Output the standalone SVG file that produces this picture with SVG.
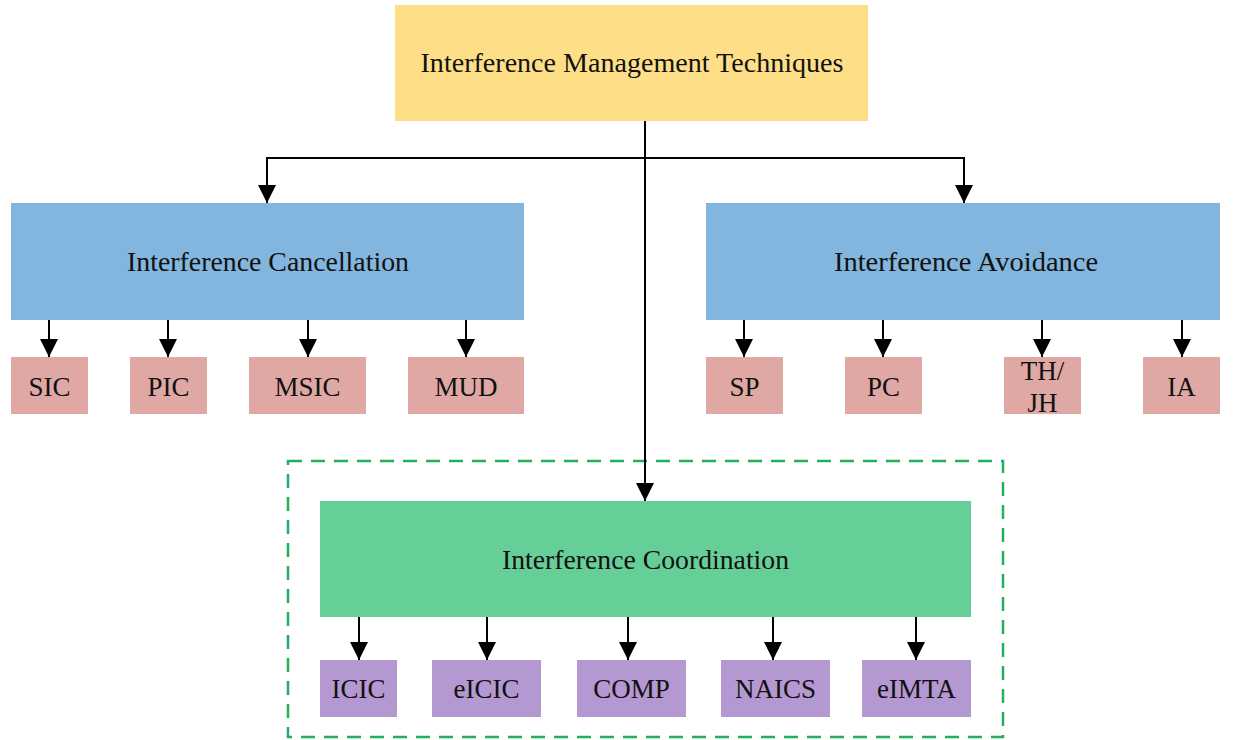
<svg xmlns="http://www.w3.org/2000/svg" width="1239" height="740" viewBox="0 0 1239 740">
<style>
text{font-family:"Liberation Serif","Times New Roman",serif;font-size:27px;fill:#111;text-anchor:middle}
.y{fill:#FEDF87}.b{fill:#82B6DE}.p{fill:#DFA8A5}.g{fill:#66CF97}.v{fill:#B498D1}
.c{fill:none;stroke:#000;stroke-width:2}
.a{marker-end:url(#ah)}
</style>
<defs>
<marker id="ah" markerUnits="userSpaceOnUse" markerWidth="20" markerHeight="20" viewBox="0 0 20 20" refX="18" refY="10" orient="auto">
<path d="M0,1 L18,10 L0,19 Z" fill="#000"/>
</marker>
</defs>
<rect x="288" y="461" width="715" height="276" fill="none" stroke="#22B05C" stroke-width="2.5" stroke-dasharray="14 9"/>
<g id="connectors">
<path class="c" d="M645,121 V158"/>
<path class="c a" d="M645,158 H267 V203"/>
<path class="c a" d="M645,158 H964 V203"/>
<path class="c a" d="M645,158 V501"/>
<path class="c a" d="M49,320 V357"/>
<path class="c a" d="M168,320 V357"/>
<path class="c a" d="M308,320 V357"/>
<path class="c a" d="M466,320 V357"/>
<path class="c a" d="M744,320 V357"/>
<path class="c a" d="M883,320 V357"/>
<path class="c a" d="M1042,320 V357"/>
<path class="c a" d="M1182,320 V357"/>
<path class="c a" d="M359,617 V660"/>
<path class="c a" d="M487,617 V660"/>
<path class="c a" d="M628,617 V660"/>
<path class="c a" d="M773,617 V660"/>
<path class="c a" d="M916,617 V660"/>
</g>
<g id="imt"><rect class="y" x="395" y="5" width="473" height="116"/><text x="632" y="72" textLength="423" lengthAdjust="spacingAndGlyphs">Interference Management Techniques</text></g>
<g id="ic"><rect class="b" x="11" y="203" width="513" height="117"/><text x="268" y="271" textLength="282" lengthAdjust="spacingAndGlyphs">Interference Cancellation</text></g>
<g id="ia"><rect class="b" x="706" y="203" width="514" height="117"/><text x="966" y="271" textLength="264" lengthAdjust="spacingAndGlyphs">Interference Avoidance</text></g>
<g id="sic"><rect class="p" x="11" y="357" width="77" height="57"/><text x="49.5" y="396">SIC</text></g>
<g id="pic"><rect class="p" x="130" y="357" width="77" height="57"/><text x="168.5" y="396">PIC</text></g>
<g id="msic"><rect class="p" x="249" y="357" width="117" height="57"/><text x="307.5" y="396">MSIC</text></g>
<g id="mud"><rect class="p" x="408" y="357" width="116" height="57"/><text x="466" y="396">MUD</text></g>
<g id="sp"><rect class="p" x="706" y="357" width="77" height="57"/><text x="744.5" y="396">SP</text></g>
<g id="pc"><rect class="p" x="845" y="357" width="77" height="57"/><text x="883.5" y="396">PC</text></g>
<g id="thjh"><rect class="p" x="1004" y="357" width="77" height="57"/><text x="1042.5" y="380">TH/</text><text x="1042.5" y="412">JH</text></g>
<g id="ia2"><rect class="p" x="1143" y="357" width="77" height="57"/><text x="1181.5" y="396">IA</text></g>
<g id="ico"><rect class="g" x="320" y="501" width="651" height="116"/><text x="645.5" y="569" textLength="287" lengthAdjust="spacingAndGlyphs">Interference Coordination</text></g>
<g id="icic"><rect class="v" x="320" y="660" width="77" height="57"/><text x="358.5" y="698">ICIC</text></g>
<g id="eicic"><rect class="v" x="432" y="660" width="109" height="57"/><text x="486.5" y="698">eICIC</text></g>
<g id="comp"><rect class="v" x="577" y="660" width="109" height="57"/><text x="631.5" y="698">COMP</text></g>
<g id="naics"><rect class="v" x="721" y="660" width="109" height="57"/><text x="775.5" y="698">NAICS</text></g>
<g id="eimta"><rect class="v" x="862" y="660" width="109" height="57"/><text x="916.5" y="698">eIMTA</text></g>
</svg>
